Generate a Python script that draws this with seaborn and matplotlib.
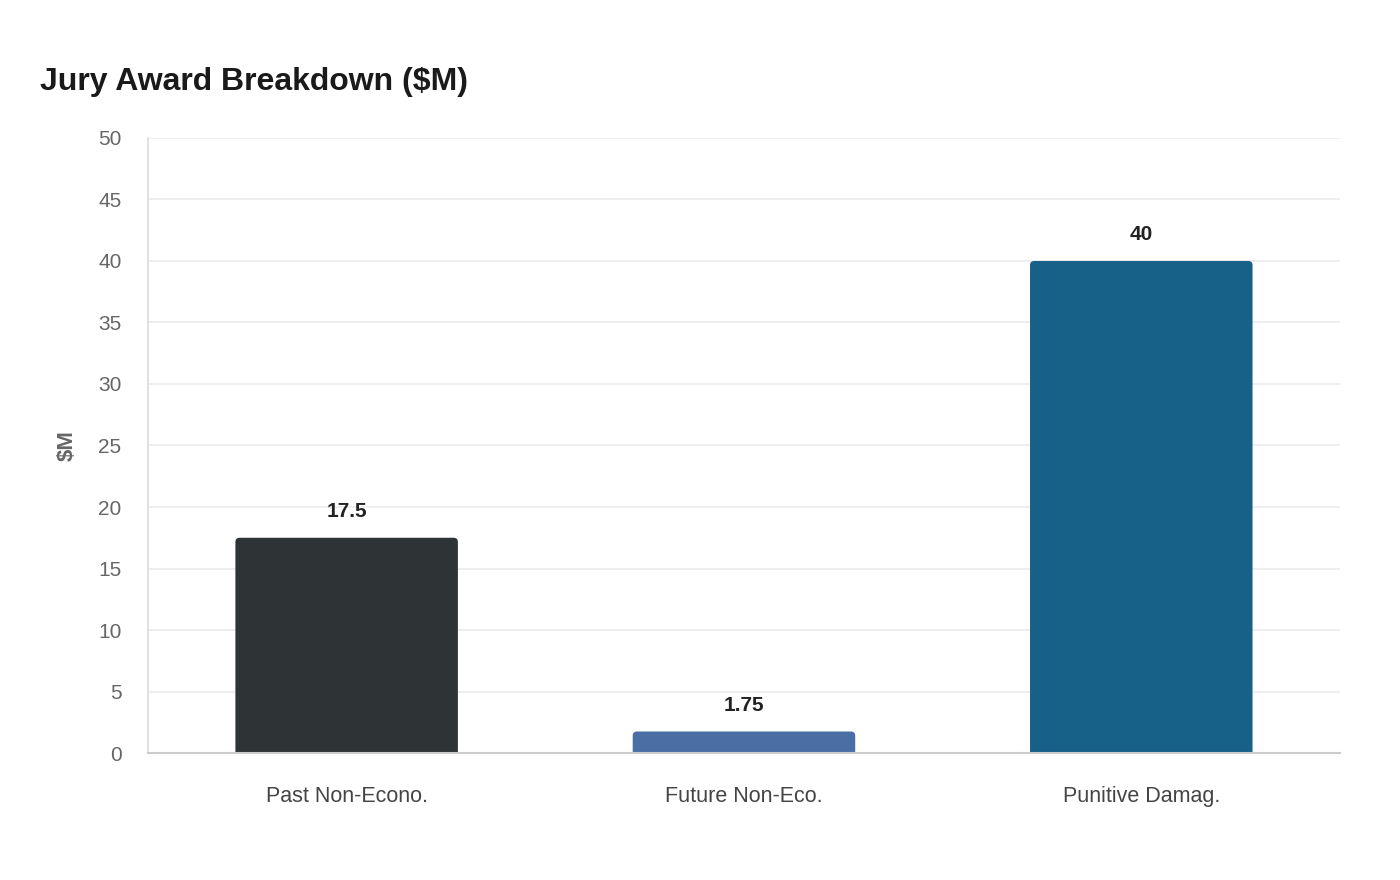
import matplotlib
matplotlib.use("Agg")
import matplotlib.pyplot as plt
from matplotlib.patches import FancyBboxPatch
import seaborn as sns
import pandas as pd

categories = ["Past Non-Econo.", "Future Non-Eco.", "Punitive Damag."]
amounts = [17.5, 1.75, 40]
bar_colors = ["#2e3436", "#4a6fa5", "#176087"]
y_ticks = [0, 5, 10, 15, 20, 25, 30, 35, 40, 45, 50]

sns.set_theme(style="white")
plt.rcParams["font.family"] = ["Liberation Sans", "DejaVu Sans"]

df = pd.DataFrame({"category": categories, "amount": amounts})

fig = plt.figure(figsize=(14, 8.8), dpi=100)
ax = fig.add_axes([0.1057, 0.1443, 0.8514, 0.6989])

sns.barplot(data=df, x="category", y="amount", hue="category",
            palette=bar_colors, width=0.56, legend=False, ax=ax,
            saturation=1)

ax.set_xlim(-0.5, 2.5)
ax.set_ylim(0, 50)
ax.set_yticks(y_ticks)
ax.yaxis.grid(True, color="#ebebeb", linewidth=1.2)
ax.set_axisbelow(True)

# swap the plain rectangles for ones with softly rounded tops
r = 0.011
for patch in list(ax.patches):
    x, w, h = patch.get_x(), patch.get_width(), patch.get_height()
    rounded = FancyBboxPatch((x, -1), w, h + 1,
                             boxstyle=f"round,pad=0,rounding_size={r}",
                             mutation_aspect=30, facecolor=patch.get_facecolor(),
                             edgecolor="none", zorder=patch.get_zorder())
    patch.set_visible(False)
    ax.add_patch(rounded)

for s in ["top", "right"]:
    ax.spines[s].set_visible(False)
ax.spines["left"].set_color("#dddddd")
ax.spines["bottom"].set_color("#cccccc")
ax.spines["bottom"].set_linewidth(1.5)
ax.spines["bottom"].set_zorder(5)

ax.tick_params(axis="y", length=11, color="#ebebeb", labelsize=15,
               labelcolor="#666666", pad=8)
ax.tick_params(axis="x", length=0, labelsize=15.5, labelcolor="#444444", pad=24)

ax.set_xlabel("")
ax.set_ylabel("$M", fontsize=16, fontweight="bold", color="#666666", labelpad=15)

for i, val in enumerate(amounts):
    ax.annotate(f"{val:g}", (i, val), xytext=(0, 12), textcoords="offset points",
                ha="center", va="bottom", fontsize=15, fontweight="bold",
                color="#222222")

fig.text(0.0286, 0.907, "Jury Award Breakdown ($M)", fontsize=23,
         fontweight="bold", color="#1a1a1a", va="center")

fig.savefig("out.png", dpi=100, facecolor="white")
